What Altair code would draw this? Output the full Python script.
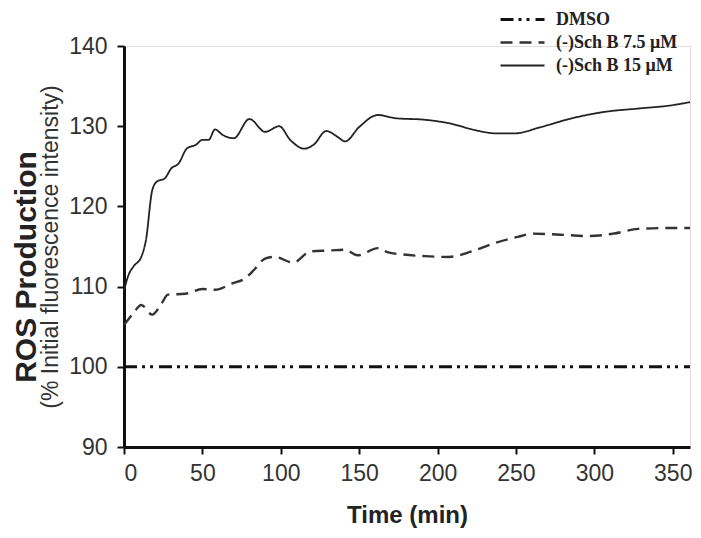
import altair as alt
import pandas as pd

# ---- data ----
series_names = ["DMSO", "(-)Sch B 7.5 \u03bcM", "(-)Sch B 15 \u03bcM"]

t_dmso = [0, 361]
v_dmso = [100, 100]

t_75 = [0, 6, 11, 18, 24, 28, 39, 50, 58, 69, 77, 83, 90, 96, 108, 119, 131, 141,
        149, 162, 168, 178, 192, 207, 222, 236, 251, 261, 276, 297, 312, 328, 345, 361]
v_75 = [105.2, 106.7, 107.7, 106.5, 107.9, 109.0, 109.1, 109.7, 109.6, 110.4, 111.0,
        112.1, 113.5, 113.7, 113.0, 114.4, 114.5, 114.6, 113.9, 114.8, 114.3, 114.0,
        113.8, 113.7, 114.4, 115.4, 116.2, 116.6, 116.5, 116.3, 116.6, 117.2, 117.3, 117.3]

t_15 = [0, 3, 6, 11, 14, 18, 21, 26, 30, 35, 40, 46, 50, 54, 58, 63, 70, 80, 90, 99,
        106, 115, 121, 129, 136, 141, 150, 162, 173, 192, 209, 224, 238, 249, 266, 286,
        307, 328, 349, 361]
v_15 = [109.5, 111.5, 112.5, 113.7, 115.8, 122.0, 123.1, 123.5, 124.7, 125.4, 127.2,
        127.7, 128.3, 128.3, 129.6, 128.9, 128.5, 130.9, 129.3, 130.0, 128.3, 127.2,
        127.7, 129.4, 128.7, 128.1, 129.9, 131.4, 131.0, 130.8, 130.3, 129.5, 129.1,
        129.1, 129.9, 131.0, 131.8, 132.2, 132.6, 133.0]

x_ticks = [0, 50, 100, 150, 200, 250, 300, 350]
y_ticks = [90, 100, 110, 120, 130, 140]

rows = []
for name, ts, vs in zip(series_names, [t_dmso, t_75, t_15], [v_dmso, v_75, v_15]):
    for t, v in zip(ts, vs):
        rows.append({"series": name, "time": t, "value": v})
df = pd.DataFrame(rows)

lines = alt.Chart(df).mark_line(interpolate="monotone").encode(
    x=alt.X("time:Q", scale=alt.Scale(domain=[0, 361], nice=False, zero=False),
            axis=alt.Axis(values=x_ticks, title="Time (min)", grid=False,
                          labelFontSize=23, labelFont="Liberation Sans", labelColor="#333",
                          labelPadding=8, tickSize=7, tickWidth=2, tickColor="#111",
                          domainWidth=3, domainColor="#111",
                          titleFont="Liberation Sans", titleFontSize=24,
                          titleFontWeight="bold", titleColor="#222", titlePadding=18)),
    y=alt.Y("value:Q", scale=alt.Scale(domain=[90, 140], nice=False, zero=False),
            axis=alt.Axis(values=y_ticks, title=None, grid=False,
                          labelFontSize=23, labelFont="Liberation Sans", labelColor="#333",
                          labelPadding=10, tickSize=7, tickWidth=2, tickColor="#111",
                          domainWidth=3, domainColor="#111")),
    color=alt.Color("series:N", scale=alt.Scale(domain=series_names,
                                                 range=["#111", "#333", "#222"]),
                    legend=alt.Legend(title=None, orient="none", legendX=375, legendY=-38,
                                      symbolType="stroke", symbolSize=1936,
                                      clipHeight=23, rowPadding=0,
                                      labelFont="Liberation Serif", labelFontSize=18,
                                      labelFontWeight="bold", labelColor="#222",
                                      labelLimit=300, labelOffset=10)),
    strokeDash=alt.StrokeDash("series:N", scale=alt.Scale(
        domain=series_names, range=[[13, 5, 3, 5, 3, 6], [12, 7], [1, 0]])),
    strokeWidth=alt.StrokeWidth("series:N", scale=alt.Scale(
        domain=series_names, range=[3, 1.8, 1.6])),
)

title_main = alt.Chart(pd.DataFrame({"t": ["ROS Production"]})).mark_text(
    angle=270, font="Liberation Sans", fontSize=30, fontWeight="bold",
    color="#222", align="center", baseline="middle"
).encode(text="t:N", x=alt.value(-97), y=alt.value(221))

title_sub = alt.Chart(pd.DataFrame({"t": ["(% Initial fluorescence intensity)"]})).mark_text(
    angle=270, font="Liberation Sans", fontSize=23, color="#333",
    align="center", baseline="middle"
).encode(text="t:N", x=alt.value(-73), y=alt.value(201))

chart = alt.layer(lines, title_main, title_sub).properties(
    width=566, height=401,
    autosize=alt.AutoSizeParams(type="none"),
    padding={"left": 116, "top": 38, "right": 3, "bottom": 83},
).configure_view(stroke=None).configure(background="white")

chart.save("out.html", embed_options={"renderer": "svg", "actions": False})
